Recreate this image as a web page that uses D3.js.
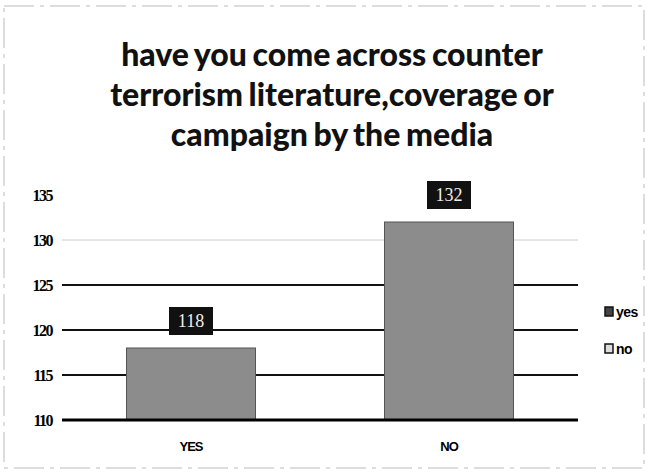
<!DOCTYPE html>
<html><head><meta charset="utf-8">
<script src="https://cdn.jsdelivr.net/npm/d3@7/dist/d3.min.js"></script>
<style>body{margin:0;background:#fff}svg{display:block}</style>
</head><body>
<svg id="c" width="651" height="475"></svg>
<script>
const categories = ["YES", "NO"];
const values = [118, 132];
const yTicks = [110, 115, 120, 125, 130, 135];
const legendLabels = ["yes", "no"];
const titleLines = ["have you come across counter", "terrorism literature,coverage or", "campaign by the media"];

const svg = d3.select("#c");
svg.append("rect").attr("x",4).attr("y",6).attr("width",640).attr("height",462)
  .attr("fill","none").attr("stroke","#bbb").attr("stroke-dasharray","30 6 4 6").attr("stroke-width",1);

const x = d3.scaleBand().domain(categories).range([62, 578]).paddingInner(0.5).paddingOuter(0.25);
const y = d3.scaleLinear().domain([110, 135]).range([420, 195]);

// title
svg.append("g").selectAll("text").data(titleLines).join("text")
  .attr("x", 332).attr("y", (d,i)=>66 + i*40)
  .attr("text-anchor","middle").attr("font-family","Lato, 'Open Sans', sans-serif")
  .attr("font-weight","900").attr("font-size",32).attr("letter-spacing","0").attr("word-spacing","-2")
  .attr("fill","#111").text(d=>d);

// gridlines
const gl = [115,120,125,130];
svg.append("g").selectAll("line").data(gl).join("line")
  .attr("x1",62).attr("x2",578).attr("y1",d=>y(d)).attr("y2",d=>y(d))
  .attr("stroke",d=>d===130?"#ccc":"#111").attr("stroke-width",d=>d===130?1:2);

// bars
svg.append("g").selectAll("rect").data(values).join("rect")
  .attr("x",(d,i)=>x(categories[i])).attr("width",x.bandwidth())
  .attr("y",d=>y(d)).attr("height",d=>y(110)-y(d))
  .attr("fill","#8c8c8c").attr("stroke","#555").attr("stroke-width",1);

// baseline
svg.append("line").attr("x1",62).attr("x2",578).attr("y1",y(110)).attr("y2",y(110))
  .attr("stroke","#000").attr("stroke-width",3);

// y axis labels
const yAxis = d3.axisLeft(y).tickValues(yTicks).tickSize(0).tickPadding(0);
const ya = svg.append("g").attr("transform","translate(52,0)").call(yAxis);
ya.select(".domain").remove();
ya.selectAll("text").attr("font-family","'Liberation Serif', serif").attr("font-weight","bold")
  .attr("font-size",16).attr("fill","#000").attr("letter-spacing","-1.5");

// x axis labels
const xAxis = d3.axisBottom(x).tickSize(0).tickPadding(0);
const xa = svg.append("g").attr("transform","translate(0,"+(y(110)+22)+")").call(xAxis);
xa.select(".domain").remove();
xa.selectAll("text").attr("font-family","'Liberation Sans Narrow', 'Liberation Sans', sans-serif").attr("font-weight","bold")
  .attr("font-size",13).attr("fill","#000").attr("letter-spacing","-1");

// data labels
const lab = svg.append("g").selectAll("g").data(values).join("g")
  .attr("transform",(d,i)=>`translate(${x(categories[i])+x.bandwidth()/2},${y(d)-27})`);
lab.append("rect").attr("x",-22).attr("y",-14).attr("width",44).attr("height",28).attr("fill","#111");
lab.append("text").attr("text-anchor","middle").attr("dy","0.35em")
  .attr("font-family","'Liberation Serif', serif").attr("font-size",18).attr("fill","#eee").text(d=>d);

// legend
const lg = svg.append("g").selectAll("g").data(legendLabels).join("g")
  .attr("transform",(d,i)=>`translate(605,${312+i*37})`);
lg.append("rect").attr("x",0).attr("y",-5).attr("width",8).attr("height",9)
  .attr("fill",(d,i)=>i===0?"#444":"#ddd").attr("stroke","#111").attr("stroke-width",1.5);
lg.append("text").attr("x",11).attr("dy","0.35em").attr("font-family","'Liberation Sans', sans-serif")
  .attr("font-weight","bold").attr("font-size",14).attr("letter-spacing","-0.5").text(d=>d);
</script>
</body></html>
